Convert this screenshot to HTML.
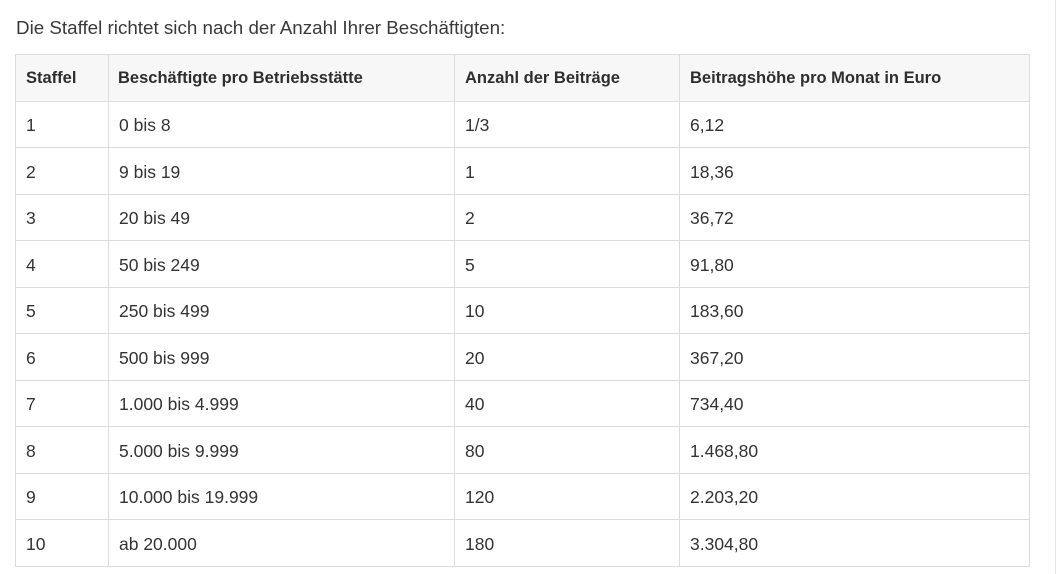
<!DOCTYPE html>
<html>
<head>
<meta charset="utf-8">
<style>
html,body{margin:0;padding:0;background:#fff;}
body{width:1056px;height:574px;position:relative;overflow:hidden;font-family:"Liberation Sans",sans-serif;color:#333;}
.h{position:absolute;left:15px;width:1015px;height:1px;background:#dcdcdc;}
.v{position:absolute;top:54px;height:513px;width:1px;background:#dcdcdc;}
.t{position:absolute;white-space:nowrap;line-height:1;}
.hd{font-weight:bold;font-size:16.5px;top:70px;color:#2e2e2e;}
.b{font-size:17.5px;}
</style>
</head>
<body>
<div class="t" style="left:16px;top:19px;font-size:18.8px;color:#3a3a3a;">Die Staffel richtet sich nach der Anzahl Ihrer Beschäftigten:</div>

<div style="position:absolute;left:15px;top:54px;width:1015px;height:47px;background:#f7f7f7;"></div>

<div class="h" style="top:54px"></div>
<div class="h" style="top:101px"></div>
<div class="h" style="top:147px"></div>
<div class="h" style="top:194px"></div>
<div class="h" style="top:240px"></div>
<div class="h" style="top:287px"></div>
<div class="h" style="top:333px"></div>
<div class="h" style="top:380px"></div>
<div class="h" style="top:426px"></div>
<div class="h" style="top:473px"></div>
<div class="h" style="top:519px"></div>
<div class="h" style="top:566px"></div>

<div class="v" style="left:15px"></div>
<div class="v" style="left:108px"></div>
<div class="v" style="left:454px"></div>
<div class="v" style="left:679px"></div>
<div class="v" style="left:1029px"></div>

<div style="position:absolute;left:1055px;top:0;width:1px;height:574px;background:#e6e6e6;"></div>

<div class="t hd" style="left:26px">Staffel</div>
<div class="t hd" style="left:118px">Beschäftigte pro Betriebsstätte</div>
<div class="t hd" style="left:465px">Anzahl der Beiträge</div>
<div class="t hd" style="left:690px">Beitragshöhe pro Monat in Euro</div>

<div class="t b" style="left:26px;top:117px">1</div>
<div class="t b" style="left:119px;top:117px">0 bis 8</div>
<div class="t b" style="left:465px;top:117px">1/3</div>
<div class="t b" style="left:690px;top:117px">6,12</div>

<div class="t b" style="left:26px;top:163.5px">2</div>
<div class="t b" style="left:119px;top:163.5px">9 bis 19</div>
<div class="t b" style="left:465px;top:163.5px">1</div>
<div class="t b" style="left:690px;top:163.5px">18,36</div>

<div class="t b" style="left:26px;top:210px">3</div>
<div class="t b" style="left:119px;top:210px">20 bis 49</div>
<div class="t b" style="left:465px;top:210px">2</div>
<div class="t b" style="left:690px;top:210px">36,72</div>

<div class="t b" style="left:26px;top:256.5px">4</div>
<div class="t b" style="left:119px;top:256.5px">50 bis 249</div>
<div class="t b" style="left:465px;top:256.5px">5</div>
<div class="t b" style="left:690px;top:256.5px">91,80</div>

<div class="t b" style="left:26px;top:303px">5</div>
<div class="t b" style="left:119px;top:303px">250 bis 499</div>
<div class="t b" style="left:465px;top:303px">10</div>
<div class="t b" style="left:690px;top:303px">183,60</div>

<div class="t b" style="left:26px;top:349.5px">6</div>
<div class="t b" style="left:119px;top:349.5px">500 bis 999</div>
<div class="t b" style="left:465px;top:349.5px">20</div>
<div class="t b" style="left:690px;top:349.5px">367,20</div>

<div class="t b" style="left:26px;top:396px">7</div>
<div class="t b" style="left:119px;top:396px">1.000 bis 4.999</div>
<div class="t b" style="left:465px;top:396px">40</div>
<div class="t b" style="left:690px;top:396px">734,40</div>

<div class="t b" style="left:26px;top:442.5px">8</div>
<div class="t b" style="left:119px;top:442.5px">5.000 bis 9.999</div>
<div class="t b" style="left:465px;top:442.5px">80</div>
<div class="t b" style="left:690px;top:442.5px">1.468,80</div>

<div class="t b" style="left:26px;top:489px">9</div>
<div class="t b" style="left:119px;top:489px">10.000 bis 19.999</div>
<div class="t b" style="left:465px;top:489px">120</div>
<div class="t b" style="left:690px;top:489px">2.203,20</div>

<div class="t b" style="left:26px;top:535.5px">10</div>
<div class="t b" style="left:119px;top:535.5px">ab 20.000</div>
<div class="t b" style="left:465px;top:535.5px">180</div>
<div class="t b" style="left:690px;top:535.5px">3.304,80</div>
</body>
</html>
